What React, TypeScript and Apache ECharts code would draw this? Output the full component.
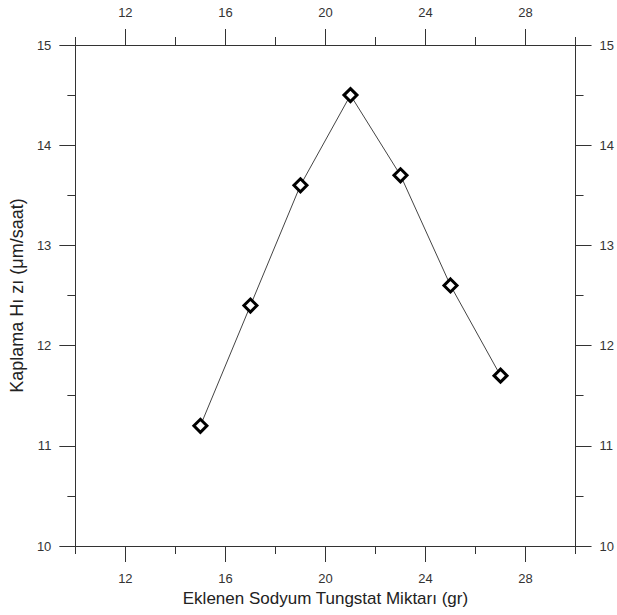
import React, { useEffect, useRef } from "react";
import * as echarts from "echarts";

const xValues = [15, 17, 19, 21, 23, 25, 27];
const yValues = [11.2, 12.4, 13.6, 14.5, 13.7, 12.6, 11.7];
const xLabelValues = [12, 16, 20, 24, 28];
const xTitle = "Eklenen Sodyum Tungstat Miktarı (gr)";
const yTitle = "Kaplama Hı zı (μm/saat)";

const FONT = "Liberation Sans, Arial, sans-serif";
const AX = "#333";

function xAxisCfg(position: "bottom" | "top", withName: boolean) {
  return {
    type: "value",
    position,
    min: 10,
    max: 30,
    interval: 4,
    name: withName ? xTitle : "",
    nameLocation: "middle",
    nameGap: 43,
    nameTextStyle: { fontFamily: FONT, fontSize: 17, color: "#222" },
    axisLine: { show: true, onZero: false, lineStyle: { color: AX, width: 1 } },
    axisTick: { show: true, inside: false, length: 8, lineStyle: { color: AX } },
    minorTick: { show: true, splitNumber: 2, length: 16, lineStyle: { color: AX, width: 1 } },
    axisLabel: {
      customValues: xLabelValues,
      margin: 26,
      fontFamily: FONT,
      fontSize: 13,
      color: "#333",
    },
    splitLine: { show: false },
    minorSplitLine: { show: false },
  };
}

function yAxisCfg(position: "left" | "right", withName: boolean) {
  return {
    type: "value",
    position,
    min: 10,
    max: 15,
    interval: 1,
    name: withName ? yTitle : "",
    nameLocation: "middle",
    nameGap: 45,
    nameTextStyle: { fontFamily: FONT, fontSize: 18, color: "#222" },
    axisLine: { show: true, onZero: false, lineStyle: { color: AX, width: 1 } },
    axisTick: { show: true, inside: false, length: 16, lineStyle: { color: AX } },
    minorTick: { show: true, splitNumber: 2, length: 8, lineStyle: { color: AX, width: 1 } },
    axisLabel: {
      margin: 24,
      fontFamily: FONT,
      fontSize: 13,
      color: "#333",
    },
    splitLine: { show: false },
    minorSplitLine: { show: false },
  };
}

export default function App() {
  const ref = useRef<HTMLDivElement>(null);
  useEffect(() => {
    if (!ref.current) return;
    const chart = echarts.init(ref.current, null, { renderer: "svg" });
    chart.setOption({
      animation: false,
      backgroundColor: "#fff",
      grid: { left: 75, right: 40, top: 45, bottom: 69, containLabel: false },
      xAxis: [xAxisCfg("bottom", true), xAxisCfg("top", false)],
      yAxis: [yAxisCfg("left", true), yAxisCfg("right", false)],
      series: [
        {
          type: "line",
          xAxisIndex: 0,
          yAxisIndex: 0,
          data: xValues.map((x, i) => [x, yValues[i]]),
          symbol: "diamond",
          symbolSize: 13,
          lineStyle: { color: "#444", width: 1 },
          itemStyle: { color: "#fff", borderColor: "#000", borderWidth: 3 },
        },
      ],
    });
    return () => chart.dispose();
  }, []);
  return (
    <div
      ref={ref}
      style={{ position: "fixed", left: 0, top: 0, width: 617, height: 615 }}
    />
  );
}
